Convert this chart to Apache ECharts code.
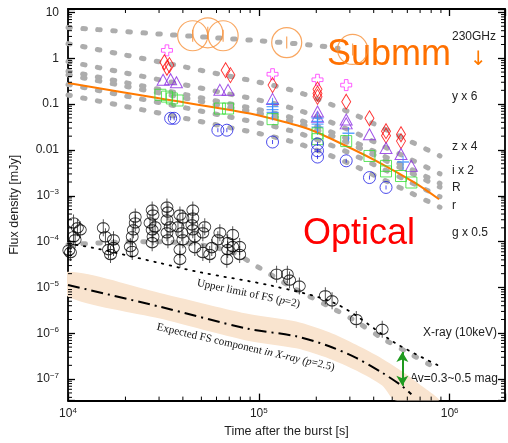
<!DOCTYPE html>
<html><head><meta charset="utf-8">
<script src="https://cdn.jsdelivr.net/npm/echarts@6/dist/echarts.min.js"></script>
<style>html,body{margin:0;padding:0;background:#fff}#c{width:508px;height:443px}</style>
</head><body><div id="c"></div>
<script>
// ---------- axis ranges ----------
const tRange = [1e4, 1.95e6];
const fRange = [3.4e-8, 11.9];
const minorMult = [2,3,4,5,6,7,8,9];

// ---------- model curves (time [s], flux [mJy]) ----------
const model230 = [[1.0e4,4.7],[3.3e4,3.3],[9.7e4,2.44],[2.0e5,1.9],[2.6e5,1.65]];
const modelY = [[1e4,2.09],[2e4,1.175],[4e4,0.66],[7e4,0.407],[1e5,0.302],[1.5e5,0.2],[2e5,0.132],[3e5,0.066],[4.5e5,0.0295],[6e5,0.0166],[8.9e5,0.0074]];
const modelZ = [[1e4,0.851],[2e4,0.479],[4e4,0.269],[7e4,0.166],[1e5,0.123],[1.5e5,0.0813],[2e5,0.0537],[3e5,0.0269],[4.5e5,0.012],[6e5,0.00676],[8.9e5,0.00302]];
const modelI = [[1e4,0.525],[2e4,0.295],[4e4,0.166],[7e4,0.102],[1e5,0.0759],[1.5e5,0.0501],[2e5,0.0331],[3e5,0.0166],[4.5e5,0.00741],[6e5,0.00417],[8.9e5,0.00186]];
const modelR = [[1e4,0.437],[2e4,0.245],[4e4,0.138],[7e4,0.0851],[1e5,0.0631],[1.5e5,0.0417],[2e5,0.0275],[3e5,0.0138],[4.5e5,0.00617],[6e5,0.00347],[8.9e5,0.00155]];
const modelr = [[1e4,0.269],[2e4,0.151],[4e4,0.0851],[7e4,0.0525],[1e5,0.0389],[1.5e5,0.0257],[2e5,0.017],[3e5,0.00851],[4.5e5,0.0038],[6e5,0.00214],[8.9e5,0.000955]];
const modelG = [[1e4,0.158],[2e4,0.0891],[4e4,0.0501],[7e4,0.0309],[1e5,0.0229],[1.5e5,0.0151],[2e5,0.01],[3e5,0.005],[4.5e5,0.00224],[6e5,0.00126],[8.9e5,0.000562]];
const modelX = [[1.0e4,8.6e-5],[2.4e4,1.0e-4],[4.5e4,9.0e-5],[7.3e4,5.8e-5],[9.75e4,2.9e-5],[1.48e5,1.03e-5],[2.29e5,4.0e-6],[3.05e5,2.1e-6],[4.53e5,7.4e-7],[6.12e5,3.7e-7],[8.07e5,1.95e-7]];
const orangeModel = [[1e4,0.29],[3e4,0.134],[9e4,0.0625],[1.45e5,0.038],[1.84e5,0.0283],[2.73e5,0.0135],[4.4e5,0.005],[6.65e5,0.00186],[8.8e5,0.00084]];
const upperFS = [[1.0e4,9.0e-5],[1.34e4,7.4e-5],[3.04e4,3.4e-5],[4.9e4,2.15e-5],[1.18e5,1.08e-5],[2.54e5,4.4e-6],[5.2e5,6.1e-7],[8.8e5,1.95e-7]];
const expectedFS = [[1e4,1.13e-5],[3.03e4,3.8e-6],[8.6e4,1.28e-6],[1.57e5,8.6e-7],[2.34e5,5.2e-7],[3.24e5,2.9e-7],[4.43e5,1.38e-7],[5.6e5,7.2e-8],[6.3e5,4.7e-8]];
const bandTop = [[1e4,2.2e-5],[3.03e4,7.6e-6],[8.6e4,2.7e-6],[1.57e5,1.8e-6],[2.34e5,1.05e-6],[3.24e5,5.6e-7],[4.43e5,2.8e-7],[5.6e5,1.5e-7],[7.0e5,7.5e-8],[8.8e5,3.4e-8]];
const bandBottom = [[1e4,6.3e-6],[3.03e4,2.1e-6],[8.6e4,7.0e-7],[1.57e5,4.7e-7],[2.34e5,2.8e-7],[3.24e5,1.55e-7],[4.43e5,7.3e-8],[5.2e5,3.4e-8]];

// ---------- observations ----------
const submm = [[4.5e4,3.1],[5.4e4,3.6],[6.5e4,3.1],[1.4e5,2.2],[3.1e5,1.56]];
const yObs = [[3.3e4,1.49],[1.18e5,0.45],[2.03e5,0.34],[2.87e5,0.26]];
const zObs = [[3.2e4,0.82],[3.4e4,0.71],[3.3e4,0.62],[6.7e4,0.55],[7.1e4,0.43],[1.18e5,0.26],[2.03e5,0.21],[2.03e5,0.17],[2.03e5,0.144],[2.87e5,0.113],[3.8e5,0.049],[4.64e5,0.0257],[4.64e5,0.0205],[5.56e5,0.022],[5.56e5,0.0156]];
const iObs = [[3.15e4,0.34],[3.45e4,0.35],[3.7e4,0.30],[6.25e4,0.205],[6.9e4,0.205],[1.18e5,0.13],[2.03e5,0.069],[2.03e5,0.053],[2.87e5,0.046],[2.87e5,0.038],[3.8e5,0.022],[4.64e5,0.011],[5.56e5,0.0082],[6.3e5,0.0045]];
const RObs = [[1.18e5,0.0975],[1.18e5,0.084],[1.18e5,0.072],[1.18e5,0.0625],[2.03e5,0.047],[2.03e5,0.040],[2.03e5,0.035],[2.03e5,0.030],[2.95e5,0.022],[5.7e5,0.0052]];
const rObs = [[3.05e4,0.16],[3.3e4,0.146],[3.5e4,0.133],[3.75e4,0.12],[6.25e4,0.08],[6.9e4,0.08],[1.18e5,0.047],[2.03e5,0.023],[2.03e5,0.0172],[2.87e5,0.0156],[3.8e5,0.0074],[4.64e5,0.0045],[4.64e5,0.0034],[5.56e5,0.0027],[6.3e5,0.00195]];
const gObs = [[3.45e4,0.049],[3.6e4,0.049],[6.1e4,0.027],[6.8e4,0.027],[1.18e5,0.0149],[2.03e5,0.0135],[2.03e5,0.0096],[2.03e5,0.007],[2.87e5,0.0058],[3.8e5,0.0025],[4.64e5,0.00152]];
const xrayObs = [[1.01e4,6.5e-5],[1.03e4,5.8e-5],[1.07e4,2.56e-4],[1.12e4,2.0e-4],[1.16e4,1.81e-4],[1.07e4,1.28e-4],[1.09e4,1.1e-4],
 [1.53e4,2.0e-4],[1.57e4,1.28e-4],[1.63e4,6.7e-5],[1.67e4,5.25e-5],[1.73e4,1.1e-4],[1.73e4,7.4e-5],
 [2.25e4,3.45e-4],[2.2e4,1.81e-4],[2.17e4,1.28e-4],[2.12e4,7.8e-5],[2.17e4,6.1e-5],[2.25e4,2.56e-4],
 [2.76e4,4.88e-4],[2.79e4,3.81e-4],[2.69e4,2.56e-4],[2.76e4,1.81e-4],[2.79e4,1.28e-4],[2.76e4,9.5e-5],[2.86e4,2.1e-4],
 [3.3e4,5.66e-4],[3.34e4,4.42e-4],[3.3e4,2.97e-4],[3.43e4,2.1e-4],[3.3e4,1.56e-4],[3.34e4,1.1e-4],
 [3.86e4,3.81e-4],[4.0e4,3.28e-4],[3.77e4,2.1e-4],[3.95e4,1.56e-4],[4.0e4,1.1e-4],[3.86e4,6.7e-5],[3.86e4,4.1e-5],
 [4.51e4,4.88e-4],[4.51e4,3.28e-4],[4.46e4,2.32e-4],[4.51e4,1.81e-4],[4.62e4,1.28e-4],
 [5.21e4,2.1e-4],[5.09e4,1.56e-4],[4.62e4,7.4e-5],[5.09e4,5.8e-5],[5.67e4,7.4e-5],[5.53e4,5.25e-5],
 [6.25e4,1.56e-4],[6.1e4,1.1e-4],[6.87e4,9.5e-5],[6.87e4,6.7e-5],[6.8e4,4.1e-5],[7.3e4,1.42e-4],[7.3e4,7.8e-5],[7.94e4,7.8e-5],[7.94e4,5.25e-5],
 [1.24e5,1.95e-5],[1.41e5,1.95e-5],[1.45e5,1.45e-5],[1.63e5,1.07e-5],[2.23e5,6.6e-6],[2.42e5,5.1e-6],[3.24e5,2.0e-6],[4.43e5,1.22e-6]];
const avArrowT = 5.65e5;
const avArrowF = [3.9e-7, 7.2e-8];

// ---------- minor tick positions (k x 10^n) ----------
const minorT = []; [4,5,6].forEach(e => minorMult.forEach(m => { const v = m*Math.pow(10,e); if (v < tRange[1]) minorT.push(v); }));
const minorF = []; [-8,-7,-6,-5,-4,-3,-2,-1,0,1].forEach(e => minorMult.forEach(m => { const v = m*Math.pow(10,e); if (v > fRange[0] && v < fRange[1]) minorF.push(v); }));

// ---------- chart ----------
const FONT = '"Liberation Sans", Arial, sans-serif';
const SERIF = '"Liberation Serif", "Times New Roman", serif';
function xLab(v){ const e=Math.log10(v), r=Math.round(e); if(Math.abs(e-r)>1e-6) return ''; return '10{s|'+r+'}'; }
function yLab(v){ const e=Math.log10(v), r=Math.round(e); if(Math.abs(e-r)>1e-6) return '';
  if (r>=-2) return ['10','1','0.1','0.01'][1-r]; return '10{s|\u2212'+(-r)+'}'; }
const rich = {s:{fontSize:8, fontFamily:FONT, color:'#222', verticalAlign:'top', padding:[0,0,7,0]}};
function axisBase(){ return {
  type:'log', logBase:10,
  axisLine:{show:true, onZero:false, lineStyle:{color:'#000', width:1.8}},
  axisTick:{show:true, inside:true, length:7, lineStyle:{color:'#000', width:1.3}},
  splitLine:{show:false}, minorSplitLine:{show:false}
};}

const gray = (data) => ({type:'line', data, showSymbol:false, symbol:'none', smooth:0.3, z:2, silent:true,
  lineStyle:{color:'#adadad', width:5, type:[2.5,12.5], cap:'round'}});
const scat = (data, path, size, color, bw) => ({type:'scatter', data, symbol:'path://'+path, symbolSize:size, z:5, silent:true,
  itemStyle:{color:'rgba(0,0,0,0)', borderColor:color, borderWidth:bw||1}});

const option = {
  animation:false,
  grid:{left:67.5, right:1.5, top:9, bottom:40},
  xAxis:[
    Object.assign(axisBase(), {min:tRange[0], max:tRange[1], position:'bottom',
      name:'Time after the burst [s]', nameLocation:'middle', nameGap:24,
      nameTextStyle:{fontFamily:FONT, fontSize:12.5, color:'#222'},
      axisLabel:{formatter:xLab, rich, fontFamily:FONT, fontSize:12, color:'#222', margin:6}}),
    Object.assign(axisBase(), {min:tRange[0], max:tRange[1], position:'top', axisLabel:{show:false}})
  ],
  yAxis:[
    Object.assign(axisBase(), {min:fRange[0], max:fRange[1], position:'left',
      name:'Flux density [mJy]', nameLocation:'middle', nameGap:47,
      nameTextStyle:{fontFamily:FONT, fontSize:12.5, color:'#222'},
      axisLabel:{formatter:yLab, rich, fontFamily:FONT, fontSize:12, color:'#222', margin:9}}),
    Object.assign(axisBase(), {min:fRange[0], max:fRange[1], position:'right', axisLabel:{show:false}})
  ],
  series:[
    {type:'custom', data:[[1e4,1e-5]], z:1, silent:true, clip:true,
     renderItem:function(params, api){
       const pts = bandTop.map(p=>api.coord(p)).concat(bandBottom.slice().reverse().map(p=>api.coord(p)));
       return {type:'polygon', shape:{points:pts, smooth:0.25}, style:{fill:'#f9e4cf'}};
     }},
    {type:'custom', data:[[1e4,1]], z:8, silent:true, clip:false,
     renderItem:function(params, api){
       const ch = []; const L = 4; const st = {stroke:'#000', lineWidth:1};
       minorT.forEach(t => { const b = api.coord([t, fRange[0]]), u = api.coord([t, fRange[1]]);
         ch.push({type:'line', shape:{x1:b[0], y1:b[1], x2:b[0], y2:b[1]-L}, style:st});
         ch.push({type:'line', shape:{x1:u[0], y1:u[1], x2:u[0], y2:u[1]+L}, style:st}); });
       minorF.forEach(f => { const l = api.coord([tRange[0], f]), r = api.coord([tRange[1], f]);
         ch.push({type:'line', shape:{x1:l[0], y1:l[1], x2:l[0]+L, y2:l[1]}, style:st});
         ch.push({type:'line', shape:{x1:r[0], y1:r[1], x2:r[0]-L, y2:r[1]}, style:st}); });
       return {type:'group', children:ch};
     }},
    gray(model230), gray(modelY), gray(modelZ), gray(modelI), gray(modelR), gray(modelr), gray(modelG), gray(modelX),
    {type:'line', data:upperFS, showSymbol:false, symbol:'none', smooth:0.3, z:3, silent:true,
     lineStyle:{color:'#000', width:1.8, type:[1.5,6.5], cap:'round'}},
    {type:'line', data:expectedFS, showSymbol:false, symbol:'none', smooth:0.3, z:3, silent:true,
     lineStyle:{color:'#000', width:2, type:[12,5,2,5]},
     markLine:{silent:true, symbol:['arrow','arrow'], symbolSize:[9,10], label:{show:false},
       lineStyle:{color:'#1f9a1f', width:2, type:'solid'},
       data:[[{coord:[avArrowT, avArrowF[0]]},{coord:[avArrowT, avArrowF[1]]}]]}},
    {type:'line', data:orangeModel, showSymbol:false, symbol:'none', smooth:0.3, z:3, silent:true,
     lineStyle:{color:'#ff7a00', width:2}},
    scat(submm, 'M0,10A10,10,0,1,1,20,10A10,10,0,1,1,0,10ZM10,6L10,14', [30,30], '#f7913a', 1.2),
    scat(yObs, 'M3,0L6,0L6,3L9,3L9,6L6,6L6,9L3,9L3,6L0,6L0,3L3,3Z', [11,11], '#ff33ff', 1),
    scat(zObs, 'M5,0L10,8L5,16L0,8Z', [9,15], '#ff0000', 1),
    scat(iObs, 'M6,0L12,11L0,11Z', [12,11], '#8a2be2', 1),
    scat(RObs, 'M0,6L12,6M6,0L6,14', [12,14], '#3a8cff', 1.2),
    scat(rObs, 'M0,0L10,0L10,10L0,10Z', [11,11], '#33dd33', 1),
    scat(gObs, 'M6,4L6,8M0,6A6,6,0,1,1,12,6A6,6,0,1,1,0,6Z', [12,12], '#1f1fe6', 1),
    scat(xrayObs, 'M6,0L6,18M0.5,9A5.5,5.5,0,1,1,11.5,9A5.5,5.5,0,1,1,0.5,9Z', [12,17], '#000', 1)
  ],
  graphic:[
    {type:'text', x:452, y:37, style:{text:'230GHz', font:'12px '+FONT, fill:'#222', verticalAlign:'middle'}},
    {type:'text', x:327, y:55, style:{text:'Submm', font:'36px '+FONT, fill:'#ff7000', verticalAlign:'middle'}},
    {type:'text', x:470, y:60, style:{text:'\u2193', font:'20px "DejaVu Sans", sans-serif', fill:'#ff7a00', verticalAlign:'middle'}},
    {type:'text', x:452, y:97, style:{text:'y x 6', font:'12px '+FONT, fill:'#222', verticalAlign:'middle'}},
    {type:'text', x:452, y:147, style:{text:'z x 4', font:'12px '+FONT, fill:'#222', verticalAlign:'middle'}},
    {type:'text', x:452, y:171, style:{text:'i x 2', font:'12px '+FONT, fill:'#222', verticalAlign:'middle'}},
    {type:'text', x:452, y:188, style:{text:'R', font:'12px '+FONT, fill:'#222', verticalAlign:'middle'}},
    {type:'text', x:452, y:206, style:{text:'r', font:'12px '+FONT, fill:'#222', verticalAlign:'middle'}},
    {type:'text', x:452, y:233, style:{text:'g x 0.5', font:'12px '+FONT, fill:'#222', verticalAlign:'middle'}},
    {type:'text', x:303, y:234, style:{text:'Optical', font:'36px '+FONT, fill:'#ff0000', verticalAlign:'middle'}},
    {type:'text', x:423, y:333, style:{text:'X-ray (10keV)', font:'12px '+FONT, fill:'#222', verticalAlign:'middle'}},
    {type:'text', x:410, y:379, style:{text:'Av=0.3~0.5 mag', font:'12px '+FONT, fill:'#222', verticalAlign:'middle'}},
    {type:'text', x:197, y:283, rotation:-0.205, style:{text:'{n|Upper limit of FS (}{i|p}{n|=2)}', verticalAlign:'middle',
      rich:{n:{font:'11px '+SERIF, fill:'#111'}, i:{font:'italic 11px '+SERIF, fill:'#111'}}}},
    {type:'text', x:157, y:327, rotation:-0.225, style:{text:'{n|Expected FS component }{i|in X-ray (p}{n|=2.5)}', verticalAlign:'middle',
      rich:{n:{font:'11px '+SERIF, fill:'#111'}, i:{font:'italic 11px '+SERIF, fill:'#111'}}}}
  ]
};
const chart = echarts.init(document.getElementById('c'));
chart.setOption(option);
</script></body></html>
